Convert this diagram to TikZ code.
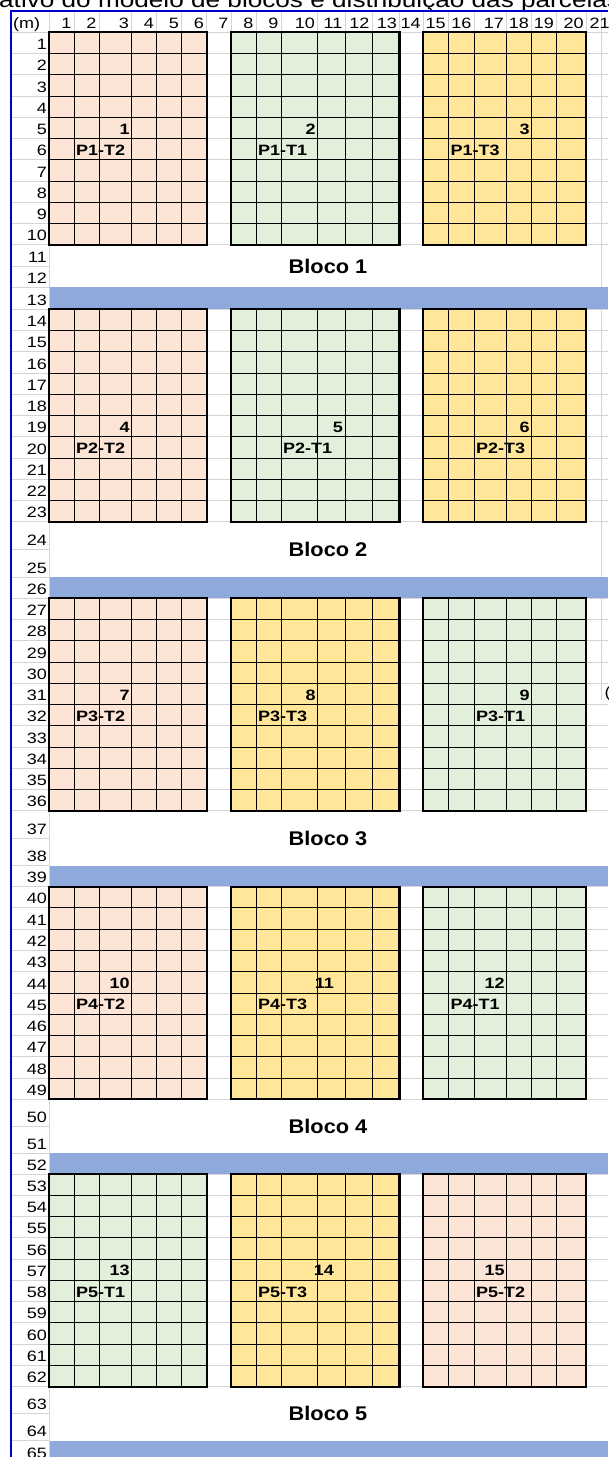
\documentclass[tikz,border=0pt]{standalone}
\usepackage{fontspec}
\setmainfont{Liberation Sans}[FakeStretch=1.2]
\newfontfamily\blfont{Liberation Sans}[FakeStretch=1.1]
\definecolor{peach}{HTML}{FCE4D6}
\definecolor{sage}{HTML}{E2EFDA}
\definecolor{gold}{HTML}{FFE699}
\definecolor{barblue}{HTML}{8EA9DB}
\definecolor{gridgray}{HTML}{D4D4D4}
\definecolor{selblue}{HTML}{0000CC}
\def\Xa{{49,74,99,131.7,156.7,181.7,206.7,231,256,281,317.7,345,372,399.5,423.3,448.3,474,506.7,531.7,556.7,586.3,601}}
\newcommand\drawplot[3]{%
  \pgfmathsetmacro\xl{\Xa[#1]}\pgfmathsetmacro\xr{\Xa[#1+6]}%
  \fill[#3] (\xl,#2) rectangle (\xr,{#2+212.6});
  \foreach \j in {1,...,5}{\pgfmathsetmacro\xx{\Xa[#1+\j]}\draw[iline] (\xx,#2) -- (\xx,{#2+212.6});}
  \foreach \i in {1,...,9}{\draw[iline] (\xl,{#2+\i*21.26}) -- (\xr,{#2+\i*21.26});}
  \draw[oline] (\xl,#2) rectangle (\xr,{#2+212.6});
}
\begin{document}
\begin{tikzpicture}[x=1pt,y=-1pt,
  rn/.style={anchor=base east,inner sep=0pt,font=\fontsize{15}{18}\selectfont},
  cn/.style={anchor=base east,inner sep=0pt,font=\fontsize{15}{18}\selectfont},
  lb/.style={anchor=base west,inner sep=0pt,font=\fontsize{15}{18}\selectfont\bfseries},
  nm/.style={anchor=base east,inner sep=0pt,font=\fontsize{15}{18}\selectfont\bfseries},
  bl/.style={anchor=base,inner sep=0pt,font=\blfont\fontsize{19.8}{22}\selectfont\bfseries},
  ttl/.style={anchor=base west,inner sep=0pt,font=\fontsize{21.8}{26}\selectfont},
  gline/.style={draw=gridgray,line width=1pt},
  iline/.style={draw=black,line width=1pt},
  oline/.style={draw=black,line width=2.2pt},
]
\useasboundingbox (0,0) rectangle (608,1457);
\clip (0,0) rectangle (608,1457);
\fill[white] (0,0) rectangle (608,1457);
\node[ttl] (title) at (-1,7.3) {ativo do modelo de blocos e distribuição das parcelas};
% header separators
\foreach \xx in {49,74,99,131.7,156.7,181.7,206.7,231,256,281,317.7,345,372,399.5,423.3,448.3,474,506.7,531.7,556.7,586.3,601}
  {\draw[gline] (\xx,11) -- (\xx,32.3);}
\draw[gline] (49,32.3) -- (49,1457);
% blocks: grid lines, label rows, bars, row numbers
\foreach \bk/\Tp/\Lb/\Tn in {0/32.3/287.3/309.3,1/309.3/577.3/598.3,2/598.3/865.7/886.7,3/886.7/1153.3/1174,4/1174/1440.7/1462}{
  \pgfmathsetmacro\Bt{\Tp+212.6}
  \pgfmathsetmacro\Md{(\Bt+\Lb)/2}
  \pgfmathtruncatemacro\bn{\bk+1}
  \foreach \i in {0,...,10}{\draw[gline] (11,{\Tp+\i*21.26}) -- (608,{\Tp+\i*21.26});}
  \draw[gline] (11,\Md) -- (49,\Md);
  \draw[gline] (11,\Lb) -- (49,\Lb);
  \draw[gline] (11,\Tn) -- (49,\Tn);
  \fill[barblue] (49.5,\Lb) rectangle (608,\Tn);
  \foreach \i in {1,...,10}{\pgfmathtruncatemacro\rr{13*\bk+\i}\node[rn] (r\rr) at (47,{\Tp+\i*21.26-4}) {\rr};}
  \pgfmathtruncatemacro\rr{13*\bk+11}\node[rn] (r\rr) at (47,{\Md-4}) {\rr};
  \pgfmathtruncatemacro\rr{13*\bk+12}\node[rn] (r\rr) at (47,{\Lb-4}) {\rr};
  \pgfmathtruncatemacro\rr{13*\bk+13}\node[rn] (r\rr) at (47,{\Tn-4}) {\rr};
  \node[bl] (bloco\bn) at (328,{\Md+7}) {Bloco \bn};
}
\draw[gline] (601,32.3) -- (601,287.3);
\draw[gline] (601,309.3) -- (601,577.3);
\draw[gline] (601,598.3) -- (601,700);
% plots
\drawplot{0}{32.3}{peach}\drawplot{7}{32.3}{sage}\drawplot{14}{32.3}{gold}
\drawplot{0}{309.3}{peach}\drawplot{7}{309.3}{sage}\drawplot{14}{309.3}{gold}
\drawplot{0}{598.3}{peach}\drawplot{7}{598.3}{gold}\drawplot{14}{598.3}{sage}
\drawplot{0}{886.7}{peach}\drawplot{7}{886.7}{gold}\drawplot{14}{886.7}{sage}
\drawplot{0}{1174}{sage}\drawplot{7}{1174}{gold}\drawplot{14}{1174}{peach}
% plot labels
\foreach \nt/\nx/\lx/\lt/\Tp/\k in {1/129.9/76/P1-T2/32.3/4, 2/315.9/258/P1-T1/32.3/4, 3/529.9/450.3/P1-T3/32.3/4,
  4/129.9/76/P2-T2/309.3/5, 5/343.2/283/P2-T1/309.3/5, 6/529.9/476/P2-T3/309.3/5,
  7/129.9/76/P3-T2/598.3/4, 8/315.9/258/P3-T3/598.3/4, 9/529.9/476/P3-T1/598.3/4,
  10/129.9/76/P4-T2/886.7/4, 11/334/258/P4-T3/886.7/4, 12/504.9/450.3/P4-T1/886.7/4,
  13/129.9/76/P5-T1/1174/4, 14/334/258/P5-T3/1174/4, 15/504.9/476/P5-T2/1174/4}{
  \node[nm] (n\nt) at (\nx,{\Tp+(\k+1)*21.26-4.5}) {\nt};
  \node[lb] (p\nt) at (\lx,{\Tp+(\k+2)*21.26-4.5}) {\lt};
}
% column headers
\node[anchor=base west,inner sep=0pt,font=\fontsize{15}{18}\selectfont] (mhead) at (13,28.3) {(m)};
\foreach \c [count=\k] in {74,99,131.7,156.7,181.7,206.7,231,256,281,317.7,345,372,399.5,423.3,448.3,474,506.7,531.7,556.7,586.3}
  {\node[cn] (h\k) at ({\c-2.5},28.3) {\k};}
\node[anchor=base west,inner sep=0pt,font=\fontsize{15}{18}\selectfont] (h21) at (589.5,28.3) {21};
\node[anchor=base west,inner sep=0pt,font=\fontsize{15}{18}\selectfont] (paren) at (604.5,697) {(};
% selection border
\draw[selblue,line width=2pt] (10,11.3) -- (608,11.3);
\draw[selblue,line width=2pt] (11.3,10) -- (11.3,1457);
\end{tikzpicture}
\end{document}
